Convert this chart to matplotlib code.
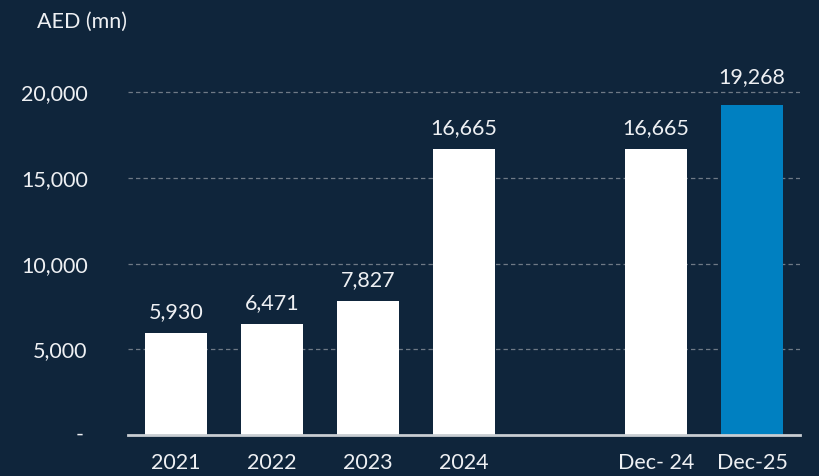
import matplotlib
matplotlib.use("Agg")
import matplotlib.pyplot as plt
from matplotlib.transforms import blended_transform_factory

categories = ["2021", "2022", "2023", "2024", "", "Dec- 24", "Dec-25"]
values = [5930, 6471, 7827, 16665, None, 16665, 19268]
labels = ["5,930", "6,471", "7,827", "16,665", "", "16,665", "19,268"]
colors = ["#ffffff", "#ffffff", "#ffffff", "#ffffff", "#ffffff", "#ffffff", "#0080c1"]
yticks = [0, 5000, 10000, 15000, 20000]
ytick_labels = ["-", "5,000", "10,000", "15,000", "20,000"]

bg = "#0f253b"
txt = "#eef0f3"
fs = 15.5
plt.rcParams['font.family'] = ['Lato', 'DejaVu Sans']

fig = plt.figure(figsize=(8.2, 4.76), dpi=100, facecolor=bg)
ax = fig.add_axes([128/820, 41/476, 672/820, (435-58)/476], facecolor=bg)

label_offsets = [8, 8, 8, 8, 0, 8, 13]
for i, (v, c, lab) in enumerate(zip(values, colors, labels)):
    if v is None:
        continue
    ax.bar(i, v, width=0.64, color=c, zorder=3)
    ax.annotate(lab, (i, v), xytext=(0, label_offsets[i]), textcoords="offset points",
                ha="center", va="bottom", color=txt, fontsize=fs)

ax.set_xlim(-0.5, len(categories) - 0.5)
ax.set_ylim(0, 22000)
ax.set_yticks(yticks[1:])
ax.set_yticklabels(ytick_labels[1:], color=txt, fontsize=fs)
tr = blended_transform_factory(fig.transFigure, ax.transData)
ax.text(80/820, yticks[0], ytick_labels[0], transform=tr, ha="center", va="center",
        color=txt, fontsize=fs)
ax.set_xticks([i for i, c in enumerate(categories) if c])
ax.set_xticklabels([c for c in categories if c], color=txt, fontsize=fs)
ax.tick_params(axis="both", length=0)
ax.tick_params(axis="y", pad=29)
ax.tick_params(axis="x", pad=13)

ax.yaxis.grid(True, linestyle=(0, (3.5, 2.5)), color="#6f7a86", linewidth=0.9, zorder=0)
for s in ["top", "right", "left"]:
    ax.spines[s].set_visible(False)
ax.spines["bottom"].set_color("#c8cdd2")
ax.spines["bottom"].set_linewidth(2)
ax.spines["bottom"].set_zorder(4)

fig.text(37/820, 1 - 22/476, "AED (mn)", color=txt, fontsize=fs, ha="left", va="center")

fig.savefig("out.png", dpi=100, facecolor=bg)
